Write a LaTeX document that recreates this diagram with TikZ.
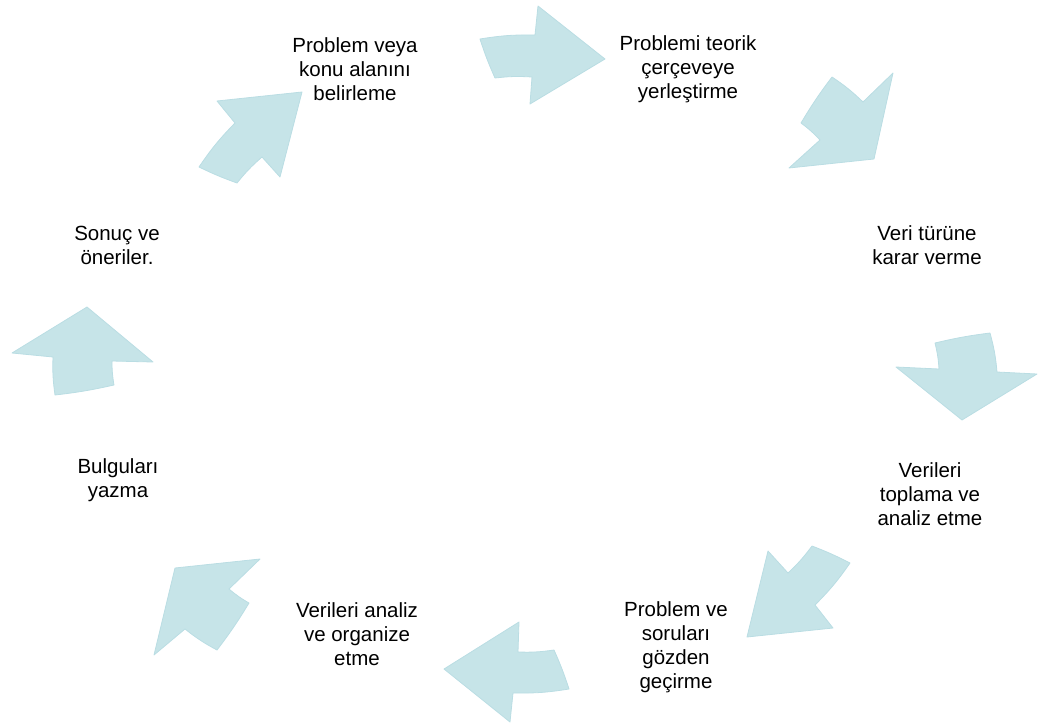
\documentclass[tikz,border=0pt]{standalone}
\usepackage{fontspec}
\setmainfont{Liberation Sans}
\definecolor{arrowfill}{RGB}{198,228,232}
\definecolor{arrowedge}{RGB}{186,221,227}
\tikzset{
  stage/.style={align=center, inner sep=0pt, font=\fontsize{20.5}{24}\selectfont},
  blockarrow/.style={fill=arrowfill, draw=arrowedge, line width=0.8pt, line join=round}
}
% curved block arrow: outer tail, outer notch, outer barb, tip, inner barb, inner notch, inner tail
\newcommand\cyclearrow[7]{%
  \draw[blockarrow] (#1) to[bend left=5] (#2) -- (#3) -- (#4) -- (#5) -- (#6)
    to[bend right=5] (#7) to[bend left=3] cycle;}
\begin{document}
\begin{tikzpicture}[x=1pt,y=-1pt]
\useasboundingbox (0,0) rectangle (1039,726);

% stages of the cycle
\node[stage] (s1) at (355,69)  {Problem veya\\konu alanını\\belirleme};
\node[stage] (s2) at (688,69)  {Problemi teorik\\çerçeveye\\yerleştirme};
\node[stage] (s3) at (927,245) {Veri türüne\\karar verme};
\node[stage] (s4) at (930,494) {Verileri\\toplama ve\\analiz etme};
\node[stage] (s5) at (676,647) {Problem ve\\soruları\\gözden\\geçirme};
\node[stage] (s6) at (357,634) {Verileri analiz\\ve organize\\etme};
\node[stage] (s7) at (118,480) {Bulguları\\yazma};
\node[stage] (s8) at (117,245) {Sonuç ve\\öneriler.};

% arrows between the stages, clockwise
\cyclearrow{480,39}{535,35}{538,6}{605,59}{530,104}{532,77}{495,78}
\cyclearrow{832,77}{863,102}{893,73}{874,159}{789,168}{820,140}{801,123}
\cyclearrow{990,333}{997,372}{1037,374}{962,420}{896,367}{939,369}{935,343}
\cyclearrow{850,563}{815,605}{833,628}{747,637}{768,551}{788,573}{812,546}
\cyclearrow{569,689}{513,693}{510,722}{444,669}{519,622}{518,652}{554,650}
\cyclearrow{217,650}{185,629}{154,655}{175,568}{260,559}{229,589}{249,603}
\cyclearrow{55,395}{53,357}{12,353}{87,307}{153,362}{112,361}{114,385}
\cyclearrow{199,167}{235,123}{217,101}{302,92}{280,177}{262,157}{237,183}
\end{tikzpicture}
\end{document}
